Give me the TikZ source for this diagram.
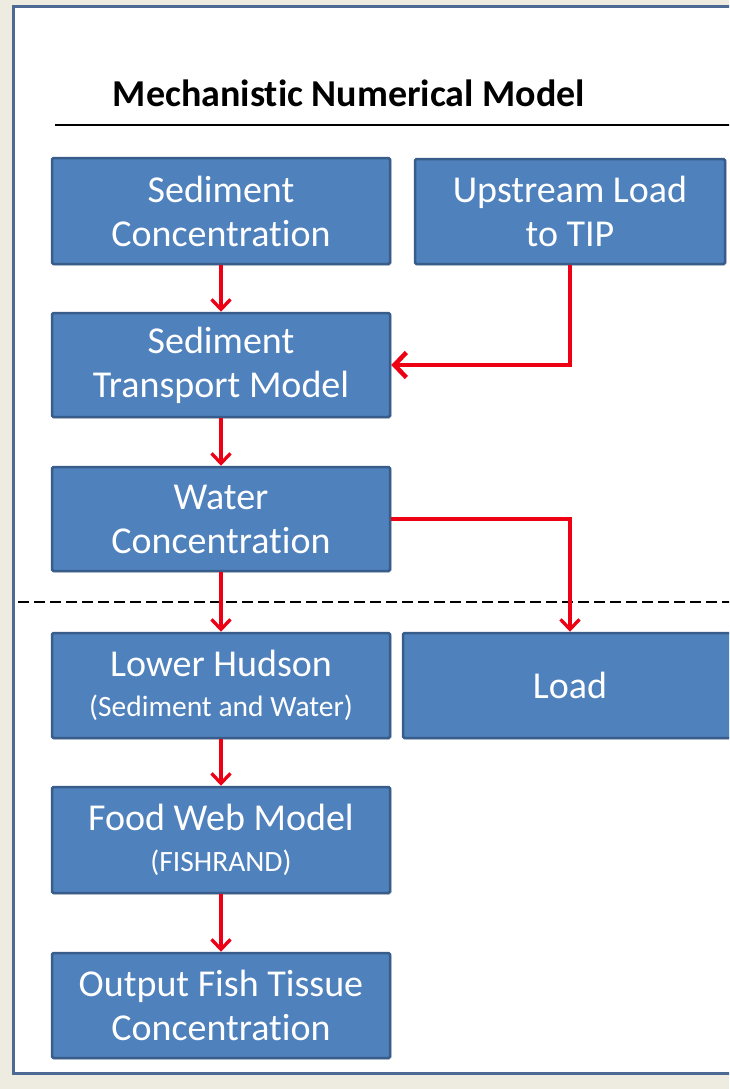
\documentclass[tikz,border=0pt]{standalone}
\usepackage{fontspec}
\setmainfont{Carlito}[RawFeature={-liga}]
\usetikzlibrary{arrows.meta,shadows}
\definecolor{bgbeige}{RGB}{238,236,225}
\definecolor{framecol}{RGB}{76,106,148}
\definecolor{boxfill}{RGB}{79,129,189}
\definecolor{boxline}{RGB}{56,93,138}
\definecolor{arrred}{RGB}{238,0,20}
\tikzset{
  procbox/.style={rectangle, fill=boxfill, draw=boxline, line width=2.5pt,
    rounded corners=1.5pt, text=white, align=center, inner sep=0pt,
    font=\fontsize{38}{44}\selectfont,
    drop shadow={shadow xshift=1.5pt, shadow yshift=-1.5pt, opacity=0.25}},
  flow/.style={draw=arrred, line width=3.3pt, -{Straight Barb[length=10pt,width=19pt,line width=3.3pt]}},
  bigflow/.style={draw=arrred, line width=4.5pt, -{Straight Barb[length=12pt,width=25pt,line width=4.5pt]}}
}
\newcommand{\smallline}[1]{{\fontsize{29.5}{36}\selectfont #1}}
\begin{document}
\begin{tikzpicture}[x=1pt,y=-1pt]
\useasboundingbox (0,0) rectangle (729,1089);
\clip (0,0) rectangle (729,1089);
\fill[bgbeige] (0,0) rectangle (729,1089);
\draw[framecol, line width=3pt, fill=white] (13,7) rectangle (780,1073);

\node[font=\fontsize{38}{44}\selectfont\bfseries, anchor=base] (title) at (349,107) {Mechanistic Numerical Model};
\coordinate (rulea) at (55,125);
\coordinate (ruleb) at (760,125);
\draw[black, line width=1.8pt] (rulea) -- (ruleb);

\coordinate (dasha) at (18,602);
\coordinate (dashb) at (760,602);
\draw[black, line width=2.7pt, dash pattern=on 11pt off 5pt] (dasha) -- (dashb);

\node[procbox, minimum width=338pt, minimum height=106pt] (sc) at (221,211) {Sediment\\Concentration};
\node[procbox, minimum width=310pt, minimum height=105pt] (up) at (570,211.5) {Upstream Load\\to TIP};
\node[procbox, minimum width=338pt, minimum height=104pt] (st) at (221,365) {Sediment\\Transport Model};
\node[procbox, minimum width=338pt, minimum height=104pt] (wc) at (221,519) {Water\\Concentration};
\node[procbox, minimum width=338pt, minimum height=105pt] (lh) at (221,685.5) {Lower Hudson\\[-4pt]\smallline{(Sediment and Water)}};
\node[procbox, minimum width=334pt, minimum height=105pt] (ld) at (570,685.5) {Load};
\node[procbox, minimum width=338pt, minimum height=106pt] (fw) at (221,840) {Food Web Model\\[-3pt]\smallline{(FISHRAND)}};
\node[procbox, minimum width=338pt, minimum height=105pt] (ot) at (221,1005.5) {Output Fish Tissue\\Concentration};

\draw[flow] (sc.south) -- (st.north);
\draw[flow] (st.south) -- (wc.north);
\draw[flow] (wc.south) -- (lh.north);
\draw[flow] (lh.south) -- (fw.north);
\draw[flow] (fw.south) -- (ot.north);
\draw[bigflow] (up.south) |- (st.east);
\draw[flow] (wc.east) -| (ld.north);
\end{tikzpicture}
\end{document}
